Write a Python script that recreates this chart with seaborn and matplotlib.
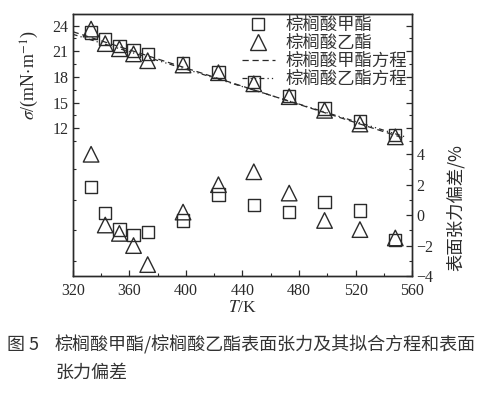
import numpy as np
import pandas as pd
import seaborn as sns
import matplotlib.pyplot as plt
from matplotlib.lines import Line2D

# 温度 / K
T = [333, 343, 353, 363, 373, 398, 423, 448, 473, 498, 523, 548]
# 表面张力 mN/m
sigma_methyl = [23.2, 22.4, 21.6, 21.1, 20.7, 19.6, 18.6, 17.4, 15.8, 14.3, 12.8, 11.2]
sigma_ethyl = [23.6, 21.9, 21.3, 20.7, 19.9, 19.4, 18.5, 17.2, 15.7, 14.1, 12.5, 11.0]
# 表面张力偏差 %
dev_methyl = [1.85, 0.15, -0.95, -1.3, -1.1, -0.35, 1.35, 0.65, 0.2, 0.85, 0.3, -1.65]
dev_ethyl = [4.0, -0.65, -1.2, -2.0, -3.25, 0.2, 2.0, 2.85, 1.45, -0.35, -0.95, -1.5]
# 拟合方程两端
fit_T = [320, 555]
fit_methyl = [23.3, 10.8]
fit_ethyl = [23.0, 11.0]

labels = ['棕榈酸甲酯', '棕榈酸乙酯', '棕榈酸甲酯方程', '棕榈酸乙酯方程']

sns.set_theme(style='ticks')
plt.rcParams['font.family'] = ['Liberation Serif', 'Noto Sans CJK SC']
plt.rcParams['mathtext.fontset'] = 'stix'
cjk = ['Noto Sans CJK SC', 'DejaVu Sans']
ink = '#2a2a2a'

df = pd.DataFrame({'T': T, 'sm': sigma_methyl, 'se': sigma_ethyl,
                   'dm': dev_methyl, 'de': dev_ethyl})

fig = plt.figure(figsize=(5.02, 3.97), dpi=100)
ax = fig.add_axes([0.1448, 0.3048, 0.6765, 0.6592])
ax2 = ax.twinx()

mk = dict(facecolor='none', edgecolor=ink, linewidth=1.0, legend=False)
# 表面张力
sns.scatterplot(data=df, x='T', y='sm', marker='s', s=78, ax=ax, **mk)
sns.scatterplot(data=df, x='T', y='se', marker='^', s=125, ax=ax, **mk)
# 拟合线
sns.lineplot(x=fit_T, y=fit_methyl, ax=ax, color=ink, linewidth=0.9)
sns.lineplot(x=fit_T, y=fit_ethyl, ax=ax, color=ink, linewidth=0.9)
ax.lines[0].set_dashes((5, 3))
ax.lines[1].set_dashes((4, 2.5, 1, 2.5, 1, 2.5))
# 偏差
sns.scatterplot(data=df, x='T', y='dm', marker='s', s=78, ax=ax2, **mk)
sns.scatterplot(data=df, x='T', y='de', marker='^', s=125, ax=ax2, **mk)

ax.set_xlim(320, 560)
ax.set_ylim(-5.27, 25.33)
ax2.set_ylim(-4, 13.2)
ax.set_xticks(range(320, 561, 40))
ax.set_xticks(range(340, 560, 40), minor=True)
ax.set_yticks([12, 15, 18, 21, 24])
ax.set_yticks([10.5, 13.5, 16.5, 19.5, 22.5], minor=True)
ax2.set_yticks([-4, -2, 0, 2, 4])
ax2.set_yticks([-3, -1, 1, 3], minor=True)

for a in (ax, ax2):
    a.tick_params(which='both', direction='in', colors=ink, labelcolor=ink,
                  labelsize=11.5, pad=3)
    a.tick_params(which='major', length=4, width=0.9)
    a.tick_params(which='minor', length=2.5, width=0.8)
    for s in a.spines.values():
        s.set_color(ink)
        s.set_linewidth(1.0)
ax.tick_params(which='both', right=True)
ax.tick_params(axis='x', pad=5)
ax2.tick_params(which='minor', left=True)

ax.set_xlabel(r'$T$/K', fontsize=12.5, color=ink, labelpad=1)
ax.set_ylabel(r'$\sigma$/(mN$\cdot$m$^{-1}$)', fontsize=13, color=ink)
ax.yaxis.set_label_coords(-0.093, 0.768)
ax2.set_ylabel('表面张力偏差/%', fontsize=12.5, color=ink, family=cjk,
               rotation=90, fontweight='light')
ax2.yaxis.set_label_coords(1.10, 0.26)

handles = [
    Line2D([], [], marker='s', ls='none', mfc='none', mec=ink, ms=8.5, mew=1.0),
    Line2D([], [], marker='^', ls='none', mfc='none', mec=ink, ms=11, mew=1.0),
    Line2D([], [], color=ink, lw=0.9, dashes=(5, 3)),
    Line2D([], [], color=ink, lw=0.9, dashes=(4, 2.5, 1, 2.5, 1, 2.5)),
]
leg = ax2.legend(handles, labels, loc='upper right', bbox_to_anchor=(1.02, 1.04),
                 frameon=False, handlelength=1.9, handletextpad=0.6,
                 labelspacing=0.0, borderpad=0.2,
                 prop={'family': cjk, 'size': 12.5, 'weight': 'light'})
for t in leg.get_texts():
    t.set_color('#333333')

# 图注
fig.text(7 / 502, 1 - 345 / 397, '图 5', family=cjk, fontsize=13,
         color='#333333', va='center', weight='light')
fig.text(55 / 502, 1 - 345 / 397, '棕榈酸甲酯/棕榈酸乙酯表面张力及其拟合方程和表面',
         family=cjk, fontsize=13, color='#333333', va='center', weight='light')
fig.text(55 / 502, 1 - 373 / 397, '张力偏差', family=cjk, fontsize=13,
         color='#333333', va='center', weight='light')

fig.savefig('out.png', dpi=100)
